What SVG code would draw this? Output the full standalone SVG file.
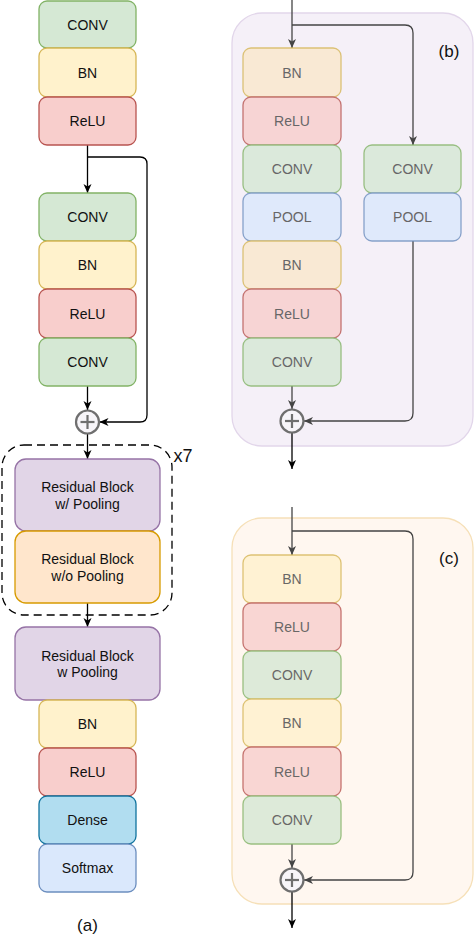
<svg xmlns="http://www.w3.org/2000/svg" width="474" height="938" viewBox="0 0 474 938">
<style>
text{font-family:"Liberation Sans",Arial,sans-serif;font-size:14px;text-anchor:middle;dominant-baseline:central;fill:#111}
.rb text,.rc text{fill:#444}
.g{fill:#d5e8d4;stroke:#82b366}
.y{fill:#fff2cc;stroke:#d6b656}
.r{fill:#f8cecc;stroke:#b85450}
.p{fill:#e1d5e7;stroke:#9673a6}
.o{fill:#ffe6cc;stroke:#d79b00}
.d{fill:#b1ddf0;stroke:#10739e}
.s{fill:#dae8fc;stroke:#6c8ebf}
rect{stroke-width:1.3}
.c line,.c path{fill:none;stroke:#000;stroke-width:1.3}
.c .gr{stroke:#444}
.sum circle{fill:#f7f5f9;stroke:#6f6f6f;stroke-width:2.2}
.sum line{stroke:#6f6f6f;stroke-width:2.2}
.lbl{font-size:17px}
</style>
<defs>
<marker id="a" markerUnits="userSpaceOnUse" markerWidth="10" markerHeight="10" viewBox="0 0 10 10" refX="9" refY="5" orient="auto">
<path d="M0,1 L9,5 L0,9 L2.5,5 z" fill="#000"/>
</marker>
<marker id="ag" markerUnits="userSpaceOnUse" markerWidth="10" markerHeight="10" viewBox="0 0 10 10" refX="9" refY="5" orient="auto">
<path d="M0,1 L9,5 L0,9 L2.5,5 z" fill="#444"/>
</marker>
</defs>

<!-- containers -->
<g id="panel-b-container"><rect x="232" y="13" width="241" height="433" rx="30" fill="#f5f0f8" stroke="#e2d6ea" stroke-width="1.5"/></g>
<g id="panel-c-container"><rect x="232" y="518" width="241" height="386" rx="30" fill="#fff7f0" stroke="#f6e0b8" stroke-width="1.5"/></g>
<g id="loop-x7"><rect x="2" y="445" width="170" height="170" rx="22" fill="none" stroke="#000" stroke-width="2.5" stroke-dasharray="8,5"/>
<text x="183" y="456" class="lbl" style="font-size:18px">x7</text></g>

<!-- connectors -->
<g id="connectors" class="c">
<path d="M87.5,145 V193" marker-end="url(#a)"/>
<path d="M87.5,157 H140 Q147,157 147,164 V415 Q147,422 140,422 H99.5" marker-end="url(#a)"/>
<path d="M87.5,386 V410" marker-end="url(#a)"/>
<path d="M87.5,434 V459" marker-end="url(#a)"/>
<path d="M87.5,603 V627" marker-end="url(#a)"/>

<path class="gr" d="M292,0 V48" marker-end="url(#ag)"/>
<path class="gr" d="M292,25 H405 Q413,25 413,33 V145" marker-end="url(#ag)"/>
<path class="gr" d="M413,241 V413 Q413,421 405,421 H304" marker-end="url(#ag)"/>
<path class="gr" d="M292,386 V409" marker-end="url(#ag)"/>
<path d="M292,433 V469" marker-end="url(#a)"/>

<path class="gr" d="M292,507 V555" marker-end="url(#ag)"/>
<path class="gr" d="M292,531 H405 Q413,531 413,539 V872 Q413,880 405,880 H304" marker-end="url(#ag)"/>
<path class="gr" d="M292,844 V868" marker-end="url(#ag)"/>
<path d="M292,892 V928" marker-end="url(#a)"/>
</g>

<!-- panel (a) -->
<g id="a-conv1"><rect class="g" x="39" y="1" width="97" height="47" rx="8"/><text x="87.5" y="24.5">CONV</text></g>
<g id="a-bn1"><rect class="y" x="39" y="48" width="97" height="49" rx="8"/><text x="87.5" y="72.5">BN</text></g>
<g id="a-relu1"><rect class="r" x="39" y="97" width="97" height="48" rx="8"/><text x="87.5" y="121">ReLU</text></g>
<g id="a-conv2"><rect class="g" x="39" y="193" width="97" height="48" rx="8"/><text x="87.5" y="217">CONV</text></g>
<g id="a-bn2"><rect class="y" x="39" y="241" width="97" height="48" rx="8"/><text x="87.5" y="265">BN</text></g>
<g id="a-relu2"><rect class="r" x="39" y="289" width="97" height="49" rx="8"/><text x="87.5" y="313.5">ReLU</text></g>
<g id="a-conv3"><rect class="g" x="39" y="338" width="97" height="48" rx="8"/><text x="87.5" y="362">CONV</text></g>
<g id="a-sum" class="sum"><circle cx="87.5" cy="422" r="11.5"/><line x1="80.5" y1="422" x2="94.5" y2="422"/><line x1="87.5" y1="415" x2="87.5" y2="429"/></g>
<g id="a-resblock-pool"><rect class="p" x="15" y="459" width="145" height="72" rx="11"/><text x="87.5" y="487">Residual Block</text><text x="87.5" y="504">w/ Pooling</text></g>
<g id="a-resblock-nopool"><rect class="o" x="15" y="531" width="145" height="72" rx="11"/><text x="87.5" y="559">Residual Block</text><text x="87.5" y="576">w/o Pooling</text></g>
<g id="a-resblock-pool2"><rect class="p" x="15" y="627" width="145" height="73" rx="11"/><text x="87.5" y="656">Residual Block</text><text x="87.5" y="672">w Pooling</text></g>
<g id="a-bn3"><rect class="y" x="39" y="700" width="97" height="48" rx="8"/><text x="87.5" y="724">BN</text></g>
<g id="a-relu3"><rect class="r" x="39" y="748" width="97" height="48" rx="8"/><text x="87.5" y="772">ReLU</text></g>
<g id="a-dense"><rect class="d" x="39" y="796" width="97" height="48" rx="8"/><text x="87.5" y="820">Dense</text></g>
<g id="a-softmax"><rect class="s" x="39" y="844" width="97" height="48" rx="8"/><text x="87.5" y="868">Softmax</text></g>
<text x="87.5" y="925" class="lbl">(a)</text>

<!-- panel (b) -->
<g class="rb" opacity="0.8">
<g id="b-bn1"><rect class="y" x="243" y="48" width="98" height="49" rx="8" style="fill:#fae8cc"/><text x="292" y="72.5">BN</text></g>
<g id="b-relu1"><rect class="r" x="243" y="97" width="98" height="48" rx="8"/><text x="292" y="121">ReLU</text></g>
<g id="b-conv1"><rect class="g" x="243" y="145" width="98" height="48" rx="8"/><text x="292" y="169">CONV</text></g>
<g id="b-pool1"><rect class="s" x="243" y="193" width="98" height="48" rx="8"/><text x="292" y="217">POOL</text></g>
<g id="b-bn2"><rect class="y" x="243" y="241" width="98" height="48" rx="8" style="fill:#fae8cc"/><text x="292" y="265">BN</text></g>
<g id="b-relu2"><rect class="r" x="243" y="289" width="98" height="49" rx="8"/><text x="292" y="313.5">ReLU</text></g>
<g id="b-conv2"><rect class="g" x="243" y="338" width="98" height="48" rx="8"/><text x="292" y="362">CONV</text></g>
<g id="b-conv-short"><rect class="g" x="364" y="145" width="97" height="48" rx="8"/><text x="412.5" y="169">CONV</text></g>
<g id="b-pool-short"><rect class="s" x="364" y="193" width="97" height="48" rx="8"/><text x="412.5" y="217">POOL</text></g>
</g>
<g id="b-sum" class="sum"><circle cx="292" cy="421" r="11.5"/><line x1="285" y1="421" x2="299" y2="421"/><line x1="292" y1="414" x2="292" y2="428"/></g>
<text x="449" y="51" class="lbl">(b)</text>

<!-- panel (c) -->
<g class="rc" opacity="0.8">
<g id="c-bn1"><rect class="y" x="243" y="555" width="98" height="48" rx="8"/><text x="292" y="579">BN</text></g>
<g id="c-relu1"><rect class="r" x="243" y="603" width="98" height="48" rx="8"/><text x="292" y="627">ReLU</text></g>
<g id="c-conv1"><rect class="g" x="243" y="651" width="98" height="48" rx="8"/><text x="292" y="675">CONV</text></g>
<g id="c-bn2"><rect class="y" x="243" y="699" width="98" height="48" rx="8"/><text x="292" y="723">BN</text></g>
<g id="c-relu2"><rect class="r" x="243" y="747" width="98" height="49" rx="8"/><text x="292" y="771.5">ReLU</text></g>
<g id="c-conv2"><rect class="g" x="243" y="796" width="98" height="48" rx="8"/><text x="292" y="820">CONV</text></g>
</g>
<g id="c-sum" class="sum"><circle cx="292" cy="880" r="11.5"/><line x1="285" y1="880" x2="299" y2="880"/><line x1="292" y1="873" x2="292" y2="887"/></g>
<text x="449" y="558" class="lbl">(c)</text>
</svg>
